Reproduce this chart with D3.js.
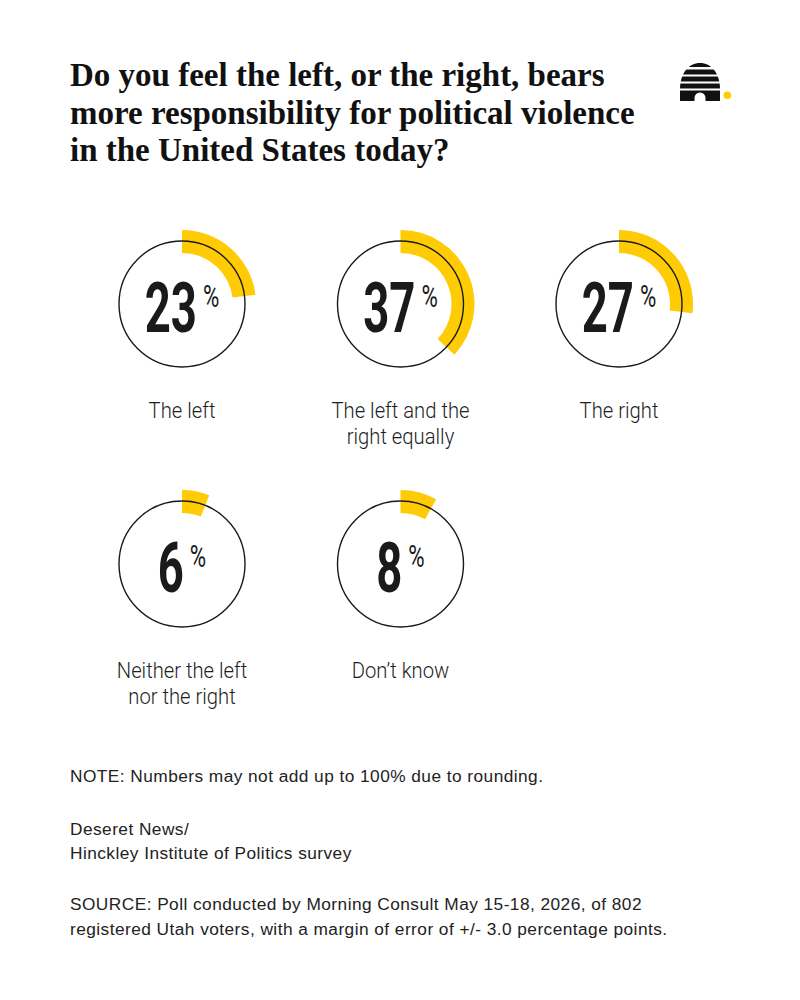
<!DOCTYPE html>
<html>
<head>
<meta charset="utf-8">
<script src="https://cdn.jsdelivr.net/npm/d3@7"></script>
<style>
  html, body { margin: 0; padding: 0; background: #fff; }
  svg { display: block; }
</style>
</head>
<body>
<div id="chart"></div>
<script>
// ---- data ----
const titleLines = [
    "Do you feel the left, or the right, bears",
    "more responsibility for political violence",
    "in the United States today?"
];
const categories = ["The left", "The left and the right equally", "The right", "Neither the left nor the right", "Don\u2019t know"];
const labelLines = [
    ["The left"],
    ["The left and the", "right equally"],
    ["The right"],
    ["Neither the left", "nor the right"],
    ["Don\u2019t know"]
];
const values = [23, 37, 27, 6, 8];
const footerLines = [
    {text: "NOTE: Numbers may not add up to 100% due to rounding.", y: 782},
    {text: "Deseret News/", y: 835},
    {text: "Hinckley Institute of Politics survey", y: 859},
    {text: "SOURCE: Poll conducted by Morning Consult May 15-18, 2026, of 802", y: 910},
    {text: "registered Utah voters, with a margin of error of +/- 3.0 percentage points.", y: 935}
];

const width = 800, height = 1000;
const yellow = "#FFCB05";
const ink = "#1a1a1a";

const svg = d3.select("#chart").append("svg")
    .attr("width", width)
    .attr("height", height)
    .attr("viewBox", `0 0 ${width} ${height}`);

svg.append("rect").attr("width", width).attr("height", height).attr("fill", "#fff");

// title
svg.append("text")
    .attr("x", 70)
    .attr("font-family", "'Liberation Serif', 'DejaVu Serif', serif")
    .attr("font-weight", 700)
    .attr("font-size", 33)
    .attr("fill", "#111")
    .selectAll("tspan")
    .data(titleLines)
    .join("tspan")
    .attr("x", 70)
    .attr("y", (d, i) => 86 + i * 37.5)
    .text(d => d);

// logo (beehive), origin at bottom centre
const logo = svg.append("g").attr("transform", "translate(700,101)");
logo.append("clipPath").attr("id", "hive")
    .append("path")
    .attr("d", "M-20,0 L-20,-12 C-20,-28 -11,-38 0,-38 C11,-38 20,-28 20,-12 L20,0 Z");
const stripes = [[-38, -34], [-31.5, -26.5], [-24.5, -19.5], [-17.5, -12.5], [-10.5, 0]];
logo.append("g").attr("clip-path", "url(#hive)")
    .selectAll("rect")
    .data(stripes)
    .join("rect")
    .attr("x", -22)
    .attr("width", 44)
    .attr("y", d => d[0])
    .attr("height", d => d[1] - d[0])
    .attr("fill", "#111");
logo.append("path")
    .attr("d", "M-5.5,0 L-5.5,-3 A5.5,5.5 0 0 1 5.5,-3 L5.5,0 Z")
    .attr("fill", "#fff");
logo.append("circle").attr("cx", 27.3).attr("cy", -5.7).attr("r", 3.8).attr("fill", yellow);

// layout of the donuts
const colX = d3.scaleLinear().domain([0, 2]).range([182, 619]);
const rowY = d3.scaleLinear().domain([0, 1]).range([304, 564]);
const pct = d3.scaleLinear().domain([0, 100]).range([0, 2 * Math.PI]);

const arc = d3.arc()
    .innerRadius(51)
    .outerRadius(74)
    .startAngle(0)
    .endAngle(d => pct(d));

const items = values.map((v, i) => ({
    value: v,
    name: categories[i],
    lines: labelLines[i],
    cx: colX(i % 3),
    cy: rowY(Math.floor(i / 3))
}));

const cell = svg.selectAll("g.cell")
    .data(items)
    .join("g")
    .attr("class", "cell")
    .attr("transform", d => `translate(${d.cx},${d.cy})`);

cell.append("path")
    .attr("d", d => arc(d.value))
    .attr("fill", yellow);

cell.append("circle")
    .attr("r", 63)
    .attr("fill", "none")
    .attr("stroke", ink)
    .attr("stroke-width", 1.4);

// number + percent sign, condensed
const sx = 0.64;
cell.each(function(d) {
    const g = d3.select(this);
    const num = g.append("text")
        .attr("font-family", "Roboto, 'DejaVu Sans', sans-serif")
        .attr("font-weight", 700)
        .attr("font-size", 71)
        .attr("fill", ink)
        .text(d.value);
    const sign = g.append("text")
        .attr("font-family", "Roboto, 'DejaVu Sans', sans-serif")
        .attr("font-weight", 400)
        .attr("font-size", 31)
        .attr("fill", ink)
        .text("%");
    const wNum = num.node().getComputedTextLength() * sx;
    const wSign = sign.node().getComputedTextLength() * 0.72;
    const gap = 6;
    const left = -(wNum + gap + wSign) / 2;
    num.attr("transform", `translate(${left},28) scale(${sx},1)`);
    sign.attr("transform", `translate(${left + wNum + gap},3) scale(0.72,1)`);
});

// category labels
cell.append("g")
    .attr("transform", "scale(0.92,1)")
    .append("text")
    .attr("text-anchor", "middle")
    .attr("font-family", "Roboto, 'DejaVu Sans', sans-serif")
    .attr("font-weight", 300)
    .attr("font-size", 22)
    .attr("fill", "#1e1e1e")
    .selectAll("tspan")
    .data(d => d.lines)
    .join("tspan")
    .attr("x", 0)
    .attr("y", (d, i) => 114 + i * 26)
    .text(d => d);

// footer
svg.append("g")
    .attr("font-family", "'Liberation Sans', Arial, sans-serif")
    .attr("font-size", 17.3)
    .attr("letter-spacing", 0.45)
    .attr("fill", "#222")
    .selectAll("text")
    .data(footerLines)
    .join("text")
    .attr("x", 70)
    .attr("y", d => d.y)
    .text(d => d.text);
</script>
</body>
</html>
